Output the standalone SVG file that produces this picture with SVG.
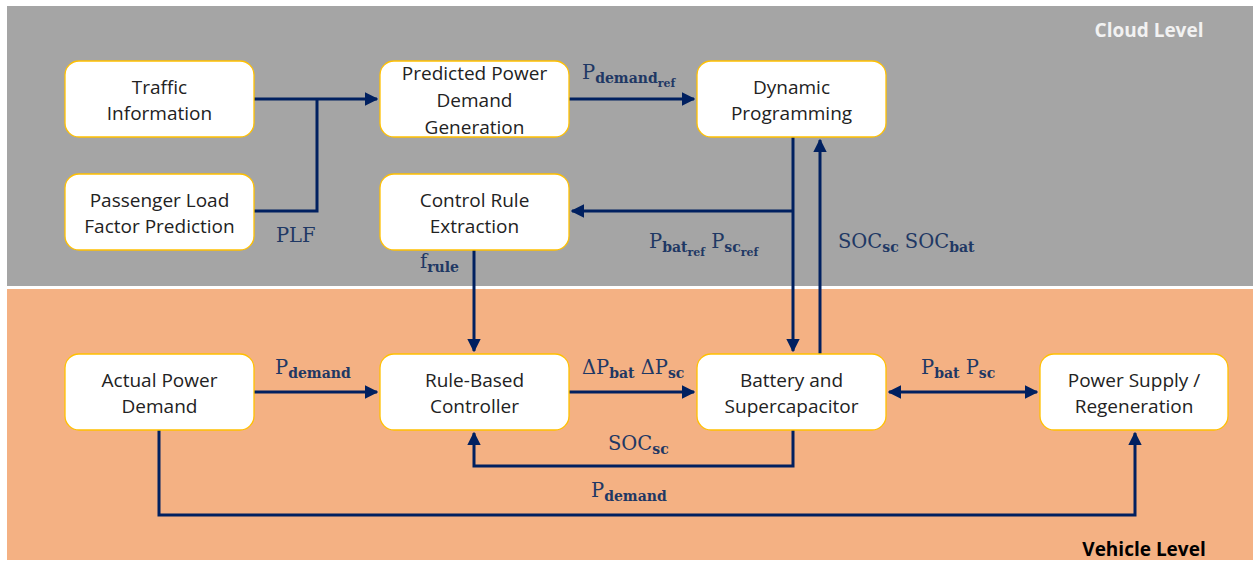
<svg xmlns="http://www.w3.org/2000/svg" width="1256" height="563" viewBox="0 0 1256 563">
<defs>
<style>
.box{fill:#fff;stroke:#FFC000;stroke-width:1.3}
.t{font-family:"Open Sans","Liberation Sans",sans-serif;font-size:19px;fill:#222;text-anchor:middle}
.c{fill:none;stroke:#002060;stroke-width:3}
.l{font-family:"DejaVu Serif","Liberation Serif",serif;font-size:19.5px;fill:#1F3864}
.s{font-size:14px;font-weight:bold}
.ss{font-size:11px;font-weight:bold}
</style>
<marker id="ah" viewBox="0 0 10 10" refX="9" refY="5" markerWidth="4.6" markerHeight="4.6" orient="auto-start-reverse" markerUnits="strokeWidth">
<path d="M0,0 L10,5 L0,10 z" fill="#002060"/>
</marker>
</defs>
<rect x="0" y="0" width="1256" height="563" fill="#fff"/>
<rect x="7" y="6" width="1246" height="280" fill="#A5A5A5"/>
<rect x="7" y="289" width="1246" height="271" fill="#F4B183"/>
<text x="1149" y="37" font-family="Open Sans, Liberation Sans, sans-serif" font-size="19" font-weight="bold" fill="#F2F2F2" text-anchor="middle">Cloud Level</text>
<text x="1144" y="556" font-family="Open Sans, Liberation Sans, sans-serif" font-size="19" font-weight="bold" fill="#000" text-anchor="middle">Vehicle Level</text>

<g id="connectors">
<path class="c" d="M254,99 H377" marker-end="url(#ah)"/>
<path class="c" d="M254,211 H317 V99"/>
<path class="c" d="M569,99 H694" marker-end="url(#ah)"/>
<path class="c" d="M793,137 V351" marker-end="url(#ah)"/>
<path class="c" d="M793,211 H572" marker-end="url(#ah)"/>
<path class="c" d="M820,354 V140" marker-end="url(#ah)"/>
<path class="c" d="M474,250 V351" marker-end="url(#ah)"/>
<path class="c" d="M254,392 H377" marker-end="url(#ah)"/>
<path class="c" d="M569,392 H694" marker-end="url(#ah)"/>
<path class="c" d="M889,392 H1037" marker-start="url(#ah)" marker-end="url(#ah)"/>
<path class="c" d="M793,430 V466 H474 V433" marker-end="url(#ah)"/>
<path class="c" d="M159,430 V515 H1135 V433" marker-end="url(#ah)"/>
</g>

<g id="labels">
<text class="l" x="582" y="79">P<tspan class="s" dy="4">demand</tspan><tspan class="ss" dy="4">ref</tspan></text>
<text class="l" x="276" y="242">PLF</text>
<text class="l" x="649" y="248">P<tspan class="s" dy="4">bat</tspan><tspan class="ss" dy="4">ref</tspan><tspan dy="-8"> P</tspan><tspan class="s" dy="4">sc</tspan><tspan class="ss" dy="4">ref</tspan></text>
<text class="l" x="838" y="248">SOC<tspan class="s" dy="4">sc</tspan><tspan dy="-4"> SOC</tspan><tspan class="s" dy="4">bat</tspan></text>
<text class="l" x="420" y="268">f<tspan class="s" dy="4">rule</tspan></text>
<text class="l" x="275" y="374">P<tspan class="s" dy="4">demand</tspan></text>
<text class="l" x="582" y="374">ΔP<tspan class="s" dy="4">bat</tspan><tspan dy="-4"> ΔP</tspan><tspan class="s" dy="4">sc</tspan></text>
<text class="l" x="921" y="374">P<tspan class="s" dy="4">bat</tspan><tspan dy="-4"> P</tspan><tspan class="s" dy="4">sc</tspan></text>
<text class="l" x="608" y="450">SOC<tspan class="s" dy="4">sc</tspan></text>
<text class="l" x="591" y="497">P<tspan class="s" dy="4">demand</tspan></text>
</g>

<g id="traffic"><rect class="box" x="65" y="61" width="189" height="76" rx="14"/><text class="t" x="159.5" y="94">Traffic</text><text class="t" x="159.5" y="120">Information</text></g>
<g id="plf"><rect class="box" x="65" y="174" width="189" height="76" rx="14"/><text class="t" x="159.5" y="207">Passenger Load</text><text class="t" x="159.5" y="233">Factor Prediction</text></g>
<g id="predicted"><rect class="box" x="380" y="61" width="189" height="76" rx="14"/><text class="t" x="474.5" y="80">Predicted Power</text><text class="t" x="474.5" y="107">Demand</text><text class="t" x="474.5" y="134">Generation</text></g>
<g id="dp"><rect class="box" x="697" y="61" width="189" height="76" rx="14"/><text class="t" x="791.5" y="94">Dynamic</text><text class="t" x="791.5" y="120">Programming</text></g>
<g id="cre"><rect class="box" x="380" y="174" width="189" height="76" rx="14"/><text class="t" x="474.5" y="207">Control Rule</text><text class="t" x="474.5" y="233">Extraction</text></g>
<g id="apd"><rect class="box" x="65" y="354" width="189" height="76" rx="14"/><text class="t" x="159.5" y="387">Actual Power</text><text class="t" x="159.5" y="413">Demand</text></g>
<g id="rbc"><rect class="box" x="380" y="354" width="189" height="76" rx="14"/><text class="t" x="474.5" y="387">Rule-Based</text><text class="t" x="474.5" y="413">Controller</text></g>
<g id="bat"><rect class="box" x="697" y="354" width="189" height="76" rx="14"/><text class="t" x="791.5" y="387">Battery and</text><text class="t" x="791.5" y="413">Supercapacitor</text></g>
<g id="ps"><rect class="box" x="1040" y="354" width="188" height="76" rx="14"/><text class="t" x="1134" y="387">Power Supply /</text><text class="t" x="1134" y="413">Regeneration</text></g>
</svg>
